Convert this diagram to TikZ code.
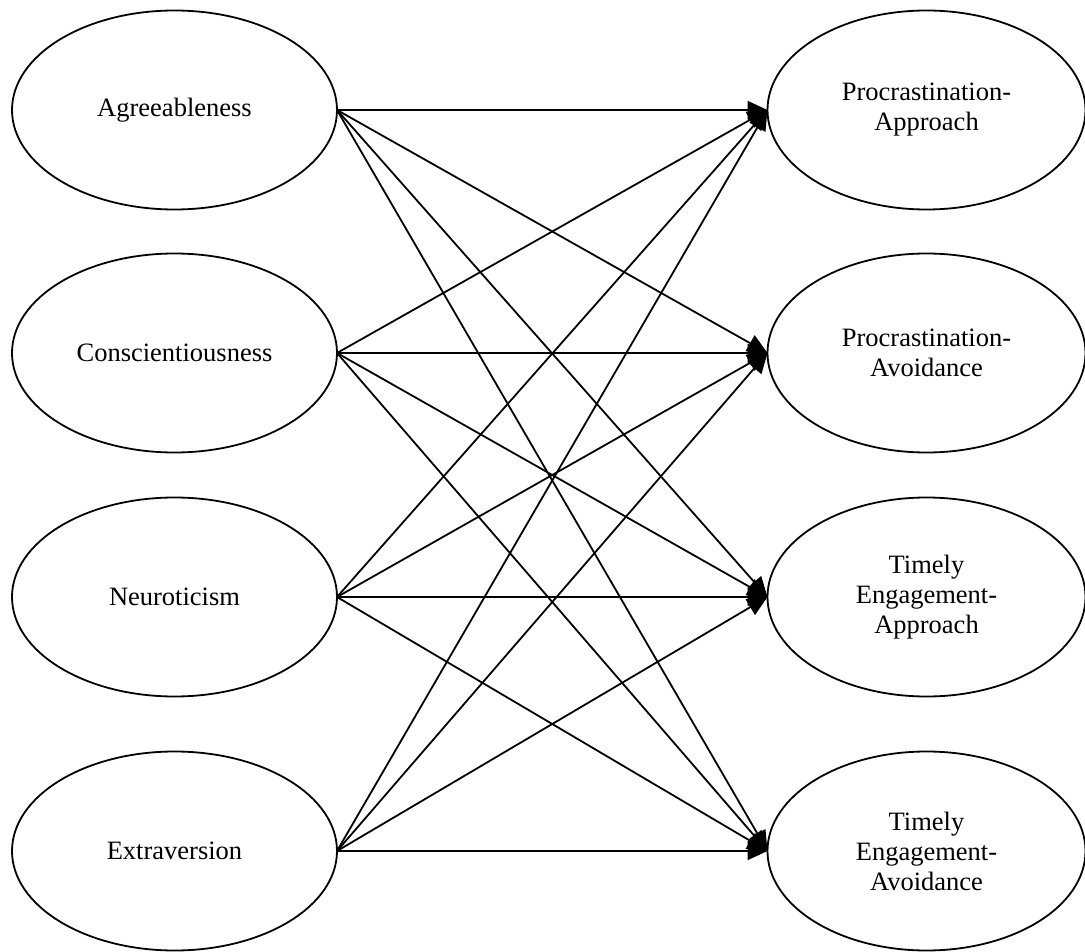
\documentclass[tikz,border=0pt]{standalone}
\usepackage{fontspec}
\setmainfont{Liberation Serif}
\usetikzlibrary{shapes.geometric,arrows.meta}
\begin{document}
\begin{tikzpicture}[x=1pt,y=-1pt,
  trait/.style={draw,ellipse,line width=1.8pt,minimum width=325pt,minimum height=199pt,
    inner sep=0pt,outer sep=0pt,align=center,
    font=\fontsize{26.5pt}{30pt}\selectfont},
  outcome/.style={trait,minimum width=318pt},
  path/.style={line width=1.8pt,-{Triangle[length=20pt,width=18pt]}}]
\useasboundingbox (0,0) rectangle (1085,952);

% predictors
\node[trait] (A) at (174.5,110) {Agreeableness};
\node[trait] (C) at (174.5,353) {Conscientiousness};
\node[trait] (N) at (174.5,597) {Neuroticism};
\node[trait] (E) at (174.5,851) {Extraversion};

% outcomes
\node[outcome] (PA) at (926.5,110) {Procrastination-\\Approach};
\node[outcome] (PV) at (926.5,353) {Procrastination-\\Avoidance};
\node[outcome] (TA) at (926.5,597) {Timely\\Engagement-\\Approach};
\node[outcome] (TV) at (926.5,851) {Timely\\Engagement-\\Avoidance};

% every predictor to every outcome
\foreach \s in {A,C,N,E}
  \foreach \t in {PA,PV,TA,TV}
    \draw[path] (\s.east) -- (\t.west);
\end{tikzpicture}
\end{document}
